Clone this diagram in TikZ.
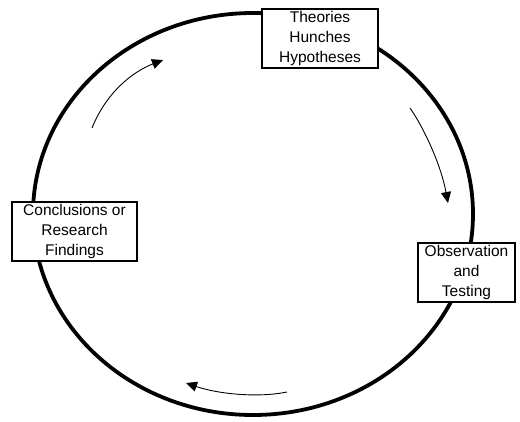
\documentclass[tikz,border=0pt]{standalone}
\usepackage{fontspec}
\setmainfont{Liberation Sans}
\usetikzlibrary{arrows.meta}
\tikzset{
  cyclebox/.style={draw=black, line width=1.4pt, fill=white, align=center, inner sep=0pt,
    font=\fontsize{15.5}{20}\selectfont},
  flowarrow/.style={line width=0.9pt, -{Triangle[length=11pt,width=10pt]}},
}
\begin{document}
\begin{tikzpicture}[x=1pt,y=-1pt]
\useasboundingbox (0,0) rectangle (520,421);
\draw[line width=3.8pt] (253,214) ellipse [x radius=220, y radius=201];
\node[cyclebox, minimum width=116pt, minimum height=59pt] (theo) at (320,38.5) {Theories\\Hunches\\Hypotheses};
\node[cyclebox, minimum width=125pt, minimum height=59pt] (conc) at (74.5,231.5) {Conclusions or\\Research\\Findings};
\node[cyclebox, minimum width=97pt, minimum height=59pt] (obs) at (466.5,272.5) {Observation\\and\\Testing};
\coordinate (a1s) at (92,128);
\coordinate (a1e) at (163,60);
\coordinate (a2s) at (410,108);
\coordinate (a2e) at (448,203);
\coordinate (a3s) at (287,392);
\coordinate (a3e) at (186,383);
\draw[flowarrow] (a1s) .. controls (106,93) and (132,72) .. (a1e);
\draw[flowarrow] (a2s) .. controls (424,128) and (441,165) .. (a2e);
\draw[flowarrow] (a3s) .. controls (258,398) and (218,394) .. (a3e);
\end{tikzpicture}
\end{document}
